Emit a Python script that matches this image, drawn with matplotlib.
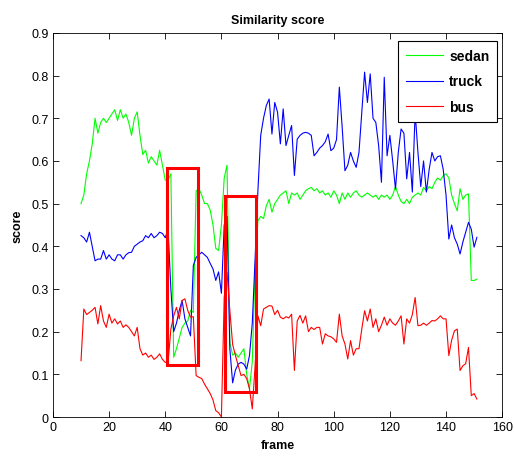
#!/usr/bin/env python3

import matplotlib
matplotlib.use('agg')
import matplotlib.pyplot as plot
from matplotlib.patches import Rectangle
import numpy as np

# frames 10..151, one value per frame
frames = list(range(10, 152))

sedan = [
    0.50, 0.52, 0.57, 0.60, 0.64, 0.70, 0.665, 0.69, 0.70, 0.69,
    0.70, 0.71, 0.72, 0.695, 0.72, 0.70, 0.71, 0.69, 0.66, 0.70,
    0.715, 0.66, 0.615, 0.625, 0.595, 0.61, 0.60, 0.59, 0.625, 0.59,
    0.555, 0.555, 0.57, 0.14, 0.16, 0.185, 0.21, 0.22, 0.225, 0.25,
    0.245, 0.53, 0.535, 0.52, 0.50, 0.50, 0.485, 0.45, 0.395, 0.39,
    0.45, 0.56, 0.59, 0.175, 0.145, 0.15, 0.14, 0.15, 0.16, 0.10,
    0.066, 0.13, 0.35, 0.46, 0.47, 0.465, 0.495, 0.51, 0.48, 0.50,
    0.51, 0.52, 0.525, 0.53, 0.50, 0.525, 0.52, 0.525, 0.51, 0.52,
    0.53, 0.535, 0.538, 0.53, 0.535, 0.525, 0.53, 0.52, 0.525, 0.515,
    0.53, 0.52, 0.50, 0.525, 0.51, 0.525, 0.515, 0.525, 0.53, 0.52,
    0.515, 0.52, 0.525, 0.52, 0.515, 0.52, 0.51, 0.52, 0.515, 0.52,
    0.51, 0.52, 0.54, 0.52, 0.505, 0.50, 0.51, 0.50, 0.515, 0.52,
    0.525, 0.52, 0.538, 0.53, 0.54, 0.535, 0.55, 0.56, 0.555, 0.565,
    0.57, 0.56, 0.52, 0.50, 0.483, 0.535, 0.51, 0.52, 0.523, 0.32,
    0.32, 0.323,
]

truck = [
    0.425, 0.42, 0.41, 0.433, 0.40, 0.366, 0.37, 0.37, 0.39, 0.37,
    0.38, 0.37, 0.366, 0.38, 0.38, 0.37, 0.38, 0.385, 0.386, 0.40,
    0.405, 0.41, 0.413, 0.425, 0.42, 0.43, 0.42, 0.425, 0.433, 0.43,
    0.42, 0.44, 0.30, 0.20, 0.22, 0.25, 0.273, 0.23, 0.21, 0.19,
    0.355, 0.374, 0.38, 0.386, 0.38, 0.374, 0.36, 0.347, 0.32, 0.34,
    0.29, 0.45, 0.47, 0.16, 0.08, 0.11, 0.124, 0.128, 0.124, 0.112,
    0.144, 0.22, 0.37, 0.53, 0.66, 0.70, 0.73, 0.745, 0.663, 0.737,
    0.714, 0.64, 0.722, 0.636, 0.66, 0.683, 0.566, 0.651, 0.66, 0.665,
    0.667, 0.665, 0.66, 0.612, 0.62, 0.63, 0.636, 0.645, 0.663, 0.624,
    0.63, 0.65, 0.773, 0.68, 0.577, 0.59, 0.62, 0.60, 0.585, 0.62,
    0.714, 0.808, 0.737, 0.804, 0.70, 0.69, 0.636, 0.55, 0.796, 0.612,
    0.66, 0.60, 0.534, 0.62, 0.675, 0.665, 0.558, 0.62, 0.527, 0.714,
    0.62, 0.54, 0.60, 0.527, 0.58, 0.62, 0.60, 0.61, 0.612, 0.58,
    0.52, 0.417, 0.45, 0.42, 0.405, 0.382, 0.41, 0.433, 0.456, 0.44,
    0.398, 0.421,
]

bus = [
    0.132, 0.253, 0.24, 0.245, 0.25, 0.257, 0.218, 0.261, 0.225, 0.21,
    0.241, 0.22, 0.23, 0.218, 0.225, 0.21, 0.216, 0.21, 0.20, 0.19,
    0.21, 0.16, 0.145, 0.15, 0.14, 0.145, 0.135, 0.14, 0.148, 0.135,
    0.128, 0.128, 0.206, 0.237, 0.257, 0.23, 0.273, 0.277, 0.25, 0.234,
    0.235, 0.097, 0.093, 0.09, 0.077, 0.066, 0.055, 0.04, 0.015, 0.01,
    0.0, 0.28, 0.339, 0.25, 0.17, 0.144, 0.12, 0.097, 0.10, 0.09,
    0.066, 0.019, 0.12, 0.237, 0.214, 0.253, 0.257, 0.261, 0.26, 0.24,
    0.25, 0.234, 0.23, 0.235, 0.232, 0.241, 0.109, 0.225, 0.238, 0.22,
    0.237, 0.20, 0.21, 0.205, 0.21, 0.21, 0.171, 0.195, 0.19, 0.188,
    0.183, 0.175, 0.241, 0.19, 0.171, 0.136, 0.179, 0.145, 0.16, 0.16,
    0.206, 0.249, 0.225, 0.253, 0.21, 0.23, 0.20, 0.215, 0.234, 0.215,
    0.23, 0.22, 0.215, 0.225, 0.237, 0.171, 0.23, 0.22, 0.24, 0.28,
    0.214, 0.215, 0.22, 0.215, 0.22, 0.226, 0.225, 0.23, 0.237, 0.23,
    0.23, 0.144, 0.18, 0.202, 0.206, 0.109, 0.12, 0.125, 0.163, 0.05,
    0.055, 0.042,
]

# highlighted regions: (first frame, last frame, low score, high score)
boxes = [
    (40.7, 51.8, 0.123, 0.584),
    (61.3, 72.3, 0.058, 0.519),
]

plot.rcParams['font.family'] = ['Liberation Sans', 'DejaVu Sans']

figure = plot.figure(figsize=(5.14, 4.6), dpi=100)
axis = figure.add_axes([0.103, 0.0913, 0.874, 0.835])

axis.plot(frames, sedan, color='#00ff00', linewidth=0.8, label='sedan')
axis.plot(frames, truck, color='#0000ff', linewidth=0.8, label='truck')
axis.plot(frames, bus, color='#ff0000', linewidth=0.8, label='bus')

for x0, x1, y0, y1 in boxes:
    axis.add_patch(Rectangle((x0, y0), x1 - x0, y1 - y0, fill=False,
                             edgecolor='#ff0000', linewidth=2.2, zorder=5))

axis.set_xlim(0, 160)
axis.set_ylim(0, 0.9)
axis.set_xticks(np.arange(0, 161, 20))
axis.set_yticks(np.arange(0, 0.91, 0.1))
axis.set_yticklabels(['0', '0.1', '0.2', '0.3', '0.4', '0.5', '0.6', '0.7', '0.8', '0.9'])
axis.tick_params(direction='in', length=4, width=0.6, labelsize=9,
                 top=True, right=True, pad=3)
for spine in axis.spines.values():
    spine.set_linewidth(0.6)

axis.set_title("Similarity score", fontsize=9, fontweight='bold', pad=7)
axis.set_xlabel("frame", fontsize=9, fontweight='bold', labelpad=4)
axis.set_ylabel("score", fontsize=9, fontweight='bold', labelpad=6)

legend = axis.legend(loc='upper right', bbox_to_anchor=(0.989, 0.979),
                     prop={'weight': 'bold', 'size': 10}, fancybox=False,
                     edgecolor='black', framealpha=1, handlelength=2.7,
                     handletextpad=0.45, borderpad=0.55, labelspacing=0.85,
                     borderaxespad=0)
legend.get_frame().set_linewidth(0.8)

figure.savefig('out.png', dpi=100)
